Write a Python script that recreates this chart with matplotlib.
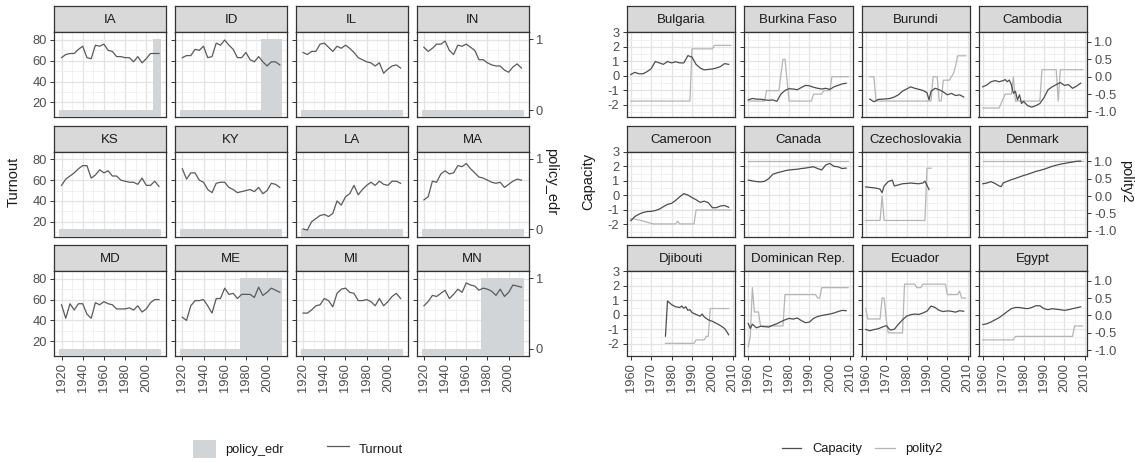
import matplotlib
matplotlib.use('Agg')
import matplotlib.pyplot as plt
from matplotlib.lines import Line2D
from matplotlib.patches import Patch

plt.rcParams['font.family'] = ['Liberation Sans', 'DejaVu Sans']
plt.rcParams['axes.unicode_minus'] = False

# ------------------------------------------------------------------ data (left)
states = ['IA', 'ID', 'IL', 'IN', 'KS', 'KY', 'LA', 'MA', 'MD', 'ME', 'MI', 'MN']
election_years = list(range(1920, 2013, 4))
turnout = {
    'IA': [63, 66, 67, 67, 71, 74, 63, 62, 75, 74, 76, 70, 69, 64, 64, 63, 63, 59, 64, 58, 62, 67, 67, 67],
    'ID': [63, 65, 65, 71, 70, 74, 63, 64, 77, 75, 80, 75, 71, 63, 63, 68, 61, 59, 64, 59, 55, 59, 59, 56],
    'IL': [68, 66, 69, 69, 76, 77, 73, 69, 74, 72, 75, 72, 68, 63, 61, 59, 58, 55, 58, 48, 52, 55, 56, 53],
    'IN': [73, 69, 72, 76, 76, 79, 70, 66, 75, 74, 76, 73, 70, 61, 61, 58, 56, 55, 55, 51, 49, 54, 57, 53],
    'KS': [55, 61, 64, 67, 71, 74, 74, 62, 65, 70, 67, 69, 64, 64, 60, 59, 58, 58, 56, 62, 55, 55, 59, 54],
    'KY': [71, 61, 67, 67, 60, 58, 51, 48, 57, 58, 58, 53, 51, 48, 49, 50, 51, 49, 53, 47, 50, 57, 56, 53],
    'LA': [13, 12, 20, 23, 26, 27, 25, 28, 40, 36, 44, 47, 55, 46, 51, 55, 58, 55, 59, 56, 55, 59, 59, 57],
    'MA': [41, 44, 59, 58, 66, 69, 66, 67, 74, 73, 76, 71, 67, 63, 62, 60, 58, 57, 58, 53, 56, 59, 61, 60],
    'MD': [55, 42, 56, 50, 56, 56, 46, 42, 57, 55, 58, 56, 55, 51, 51, 51, 52, 50, 54, 48, 51, 57, 60, 60],
    'ME': [43, 40, 54, 59, 59, 60, 54, 47, 61, 61, 71, 65, 66, 61, 65, 65, 65, 62, 72, 64, 67, 71, 69, 67],
    'MI': [47, 47, 50, 54, 55, 61, 59, 53, 66, 70, 71, 67, 66, 59, 59, 60, 58, 54, 61, 54, 58, 63, 66, 61],
    'MN': [54, 58, 64, 63, 66, 69, 61, 65, 70, 67, 76, 74, 73, 69, 71, 70, 68, 64, 70, 63, 67, 74, 73, 72],
}
# first election year with election-day registration (policy_edr = 1)
edr_start = {'IA': 2008, 'ID': 1996, 'ME': 1976, 'MN': 1976}

# ------------------------------------------------------------------ data (right)
countries = ['Bulgaria', 'Burkina Faso', 'Burundi', 'Cambodia', 'Cameroon', 'Canada',
             'Czechoslovakia', 'Denmark', 'Djibouti', 'Dominican Rep.', 'Ecuador', 'Egypt']
cap_years_std = list(range(1960, 2009, 2))
capacity = {
    'Bulgaria': (cap_years_std,
                 [0.1, 0.25, 0.15, 0.15, 0.3, 0.5, 1.0, 0.9, 0.8, 1.0, 0.9, 0.98, 0.9,
                  0.9, 1.4, 1.3, 0.8, 0.55, 0.42, 0.45, 0.48, 0.55, 0.65, 0.85, 0.8]),
    'Burkina Faso': (cap_years_std,
                     [-1.65, -1.55, -1.6, -1.6, -1.65, -1.68, -1.65, -1.75, -1.25, -1.0, -0.88, -0.9,
                      -0.95, -0.8, -0.65, -0.68, -0.78, -0.85, -0.9, -0.85, -0.93, -0.75, -0.65, -0.55, -0.5]),
    'Burundi': ([1962, 1964, 1966, 1968, 1970, 1972, 1974, 1976, 1978, 1980, 1982, 1984, 1986,
                 1988, 1990, 1991, 1992, 1994, 1996, 1998, 2000, 2002, 2004, 2006, 2008],
                [-1.6, -1.78, -1.62, -1.6, -1.58, -1.55, -1.45, -1.3, -1.05, -0.9, -0.75, -0.85, -0.92,
                 -1.0, -1.15, -1.65, -1.05, -0.85, -0.95, -1.1, -1.3, -1.2, -1.35, -1.3, -1.45]),
    'Cambodia': ([1960, 1962, 1964, 1966, 1968, 1970, 1971, 1972, 1973, 1974, 1975, 1976, 1977, 1978,
                  1979, 1980, 1982, 1984, 1986, 1988, 1990, 1992, 1994, 1996, 1998, 2000, 2002, 2004,
                  2006, 2008],
                 [-0.75, -0.62, -0.4, -0.32, -0.4, -0.32, -0.25, -0.4, -0.28, -0.6, -1.2, -1.05, -1.65,
                  -1.3, -1.9, -1.75, -2.05, -2.15, -2.05, -1.9, -1.5, -0.95, -0.75, -0.6, -0.45, -0.65,
                  -0.6, -0.85, -0.7, -0.5]),
    'Cameroon': (cap_years_std,
                 [-1.75, -1.46, -1.3, -1.18, -1.12, -1.1, -1.05, -0.95, -0.78, -0.62, -0.55, -0.35, -0.1,
                  0.12, 0.02, -0.15, -0.3, -0.48, -0.4, -0.5, -0.85, -0.85, -0.73, -0.7, -0.82]),
    'Canada': (cap_years_std,
               [1.05, 1.0, 0.95, 0.93, 0.97, 1.15, 1.45, 1.55, 1.62, 1.7, 1.75, 1.78, 1.8,
                1.85, 1.88, 1.93, 1.97, 1.85, 1.75, 2.1, 2.2, 2.0, 1.97, 1.85, 1.88]),
    'Czechoslovakia': ([1960, 1962, 1964, 1966, 1967, 1968, 1969, 1971, 1973, 1974, 1976, 1978, 1980,
                        1982, 1984, 1986, 1988, 1989, 1990, 1991],
                       [0.58, 0.55, 0.52, 0.47, 0.42, 0.18, 0.65, 0.95, 1.05, 0.65, 0.72, 0.8, 0.82,
                        0.85, 0.82, 0.8, 0.85, 0.98, 0.7, 0.4]),
    'Denmark': ([1960, 1962, 1964, 1966, 1968, 1969, 1970, 1972, 1974, 1976, 1978, 1980, 1982, 1984,
                 1986, 1988, 1990, 1992, 1994, 1996, 1998, 2000, 2002, 2004, 2006, 2008],
                [0.8, 0.85, 0.95, 0.82, 0.65, 0.6, 0.85, 0.97, 1.08, 1.17, 1.27, 1.37, 1.45, 1.55,
                 1.65, 1.72, 1.8, 1.9, 2.0, 2.08, 2.15, 2.2, 2.25, 2.3, 2.35, 2.36]),
    'Djibouti': ([1977, 1978, 1980, 1982, 1984, 1985, 1986, 1987, 1988, 1989, 1990, 1992, 1994, 1995,
                  1996, 1998, 2000, 2002, 2004, 2006, 2007, 2008],
                 [-1.48, 0.95, 0.7, 0.55, 0.5, 0.6, 0.45, 0.55, 0.3, 0.35, 0.15, 0.02, -0.1, 0.05,
                  -0.15, -0.35, -0.45, -0.6, -0.75, -0.95, -1.15, -1.38]),
    'Dominican Rep.': ([1960, 1961, 1962, 1964, 1966, 1968, 1970, 1972, 1974, 1976, 1978, 1980, 1982,
                        1984, 1986, 1988, 1990, 1992, 1994, 1996, 1998, 2000, 2002, 2004, 2006, 2008],
                       [-0.6, -0.95, -0.65, -0.9, -0.8, -0.82, -0.85, -0.72, -0.62, -0.48, -0.35, -0.25,
                        -0.3, -0.22, -0.4, -0.55, -0.5, -0.25, -0.12, -0.05, 0.0, 0.05, 0.12, 0.22, 0.3,
                        0.28]),
    'Ecuador': (cap_years_std,
                [-1.02, -1.1, -1.02, -0.97, -0.85, -0.75, -1.05, -1.0, -0.65, -0.35, -0.1, 0.0, 0.05,
                 0.02, 0.12, 0.25, 0.6, 0.5, 0.3, 0.22, 0.27, 0.24, 0.18, 0.28, 0.24]),
    'Egypt': (cap_years_std,
              [-0.68, -0.62, -0.5, -0.35, -0.2, 0.0, 0.22, 0.42, 0.5, 0.5, 0.45, 0.42, 0.5,
               0.62, 0.62, 0.42, 0.35, 0.42, 0.38, 0.35, 0.3, 0.35, 0.42, 0.48, 0.55]),
}
# polity2 (rescaled to -1..1): vertices of the yearly series
polity2 = {
    'Bulgaria': ([1960, 1989, 1990, 2000, 2001, 2009], [-0.7, -0.7, 0.8, 0.8, 0.9, 0.9]),
    'Burkina Faso': ([1960, 1968, 1969, 1975, 1977, 1978, 1980, 1991, 1992, 1996, 1997, 2000, 2001, 2009],
                     [-0.7, -0.7, -0.4, -0.4, 0.5, 0.5, -0.7, -0.7, -0.5, -0.5, -0.4, -0.4, 0.0, 0.0]),
    'Burundi': ([1962, 1964, 1965, 1992, 1993, 1995, 1996, 1997, 1998, 2001, 2003, 2004, 2005, 2009],
                [0.0, 0.0, -0.7, -0.7, 0.0, 0.0, -0.7, -0.7, -0.1, -0.1, 0.1, 0.3, 0.6, 0.6]),
    'Cambodia': ([1960, 1968, 1971, 1974, 1975, 1976, 1988, 1989, 1996, 1997, 1998, 2009],
                 [-0.9, -0.9, -0.5, -0.5, 0.0, -0.7, -0.7, 0.2, 0.2, -0.7, 0.2, 0.2]),
    'Cameroon': ([1960, 1961, 1965, 1971, 1982, 1983, 1984, 1991, 1992, 2009],
                 [-0.65, -0.65, -0.7, -0.8, -0.8, -0.72, -0.8, -0.8, -0.4, -0.4]),
    'Canada': ([1960, 2009], [1.0, 1.0]),
    'Czechoslovakia': ([1960, 1967, 1968, 1969, 1989, 1990, 1992], [-0.7, -0.7, 0.0, -0.7, -0.7, 0.8, 0.8]),
    'Denmark': ([1960, 2009], [1.0, 1.0]),
    'Djibouti': ([1977, 1991, 1992, 1996, 1997, 1998, 1999, 2008],
                 [-0.8, -0.8, -0.7, -0.7, -0.6, -0.6, 0.2, 0.2]),
    'Dominican Rep.': ([1960, 1961, 1962, 1963, 1965, 1966, 1977, 1978, 1993, 1994, 1995, 1996, 2009],
                       [-0.9, -0.6, 0.8, 0.1, 0.1, -0.3, -0.3, 0.6, 0.6, 0.5, 0.5, 0.8, 0.8]),
    'Ecuador': ([1960, 1961, 1967, 1968, 1969, 1970, 1971, 1978, 1979, 1984, 1985, 1987, 1988, 1999,
                 2000, 2005, 2006, 2007, 2009],
                [0.2, -0.1, -0.1, 0.5, 0.5, -0.1, -0.5, -0.5, 0.9, 0.9, 0.8, 0.8, 0.9, 0.9,
                 0.6, 0.6, 0.7, 0.5, 0.5]),
    'Egypt': ([1960, 1975, 1976, 2004, 2005, 2009], [-0.7, -0.7, -0.6, -0.6, -0.3, -0.3]),
}

# ------------------------------------------------------------------ styling
W, H = 1135, 462
fig = plt.figure(figsize=(W / 100, H / 100), dpi=100)

BORDER = '#333333'
STRIP = '#D9D9D9'
GRID_MAJ = '#E3E3E3'
GRID_MIN = '#EFEFEF'
TXT = '#4D4D4D'
EDR_COL = '#D1D5D8'
TURN_COL = '#5A5A5A'
CAP_COL = '#4D4D4D'
POL_COL = '#B5B5B5'
TICK_FS = 9.3
STRIP_FS = 9.5
TITLE_FS = 10.5
LEG_FS = 9.3
TICK_LEN = 3.2
TICK_PAD = 2.0

row_tops = [6.3, 125.7, 245.1]
strip_h = 26
plot_h = 85
left_lefts = [54.2, 175.0, 295.8, 416.6]
left_w = 112
right_lefts = [626.5, 744.0, 861.5, 978.5]
right_w = 108.5


def rect(l, t, w, h):
    return [l / W, 1 - (t + h) / H, w / W, h / H]


def make_panel(l, t, w, title):
    s = fig.add_axes(rect(l, t, w, strip_h))
    s.set_facecolor(STRIP)
    s.set_xticks([]); s.set_yticks([])
    for sp in s.spines.values():
        sp.set_color(BORDER); sp.set_linewidth(0.9)
    s.text(0.5, 0.46, title, ha='center', va='center', fontsize=STRIP_FS, color='#1A1A1A',
           transform=s.transAxes)
    ax = fig.add_axes(rect(l, t + strip_h, w, plot_h))
    ax.set_facecolor('white')
    for sp in ax.spines.values():
        sp.set_color(BORDER); sp.set_linewidth(0.9)
    ax.tick_params(which='major', length=TICK_LEN, width=0.7, color=BORDER, labelsize=TICK_FS,
                   labelcolor=TXT, pad=TICK_PAD)
    ax.tick_params(which='minor', length=0)
    ax.grid(which='major', color=GRID_MAJ, lw=0.9, zorder=0)
    ax.grid(which='minor', color=GRID_MIN, lw=0.6, zorder=0)
    ax.set_axisbelow(True)
    return ax


def style_twin_ticks(tw):
    tw.tick_params(axis='y', length=TICK_LEN, width=0.7, color=BORDER, labelsize=TICK_FS,
                   labelcolor=TXT, pad=TICK_PAD)


# ------------------------------------------------------------------ left facets
L_XLIM = (1913.1, 2018.8)
L_YLIM = (5.6, 87.4)
EDR0, EDR1 = 12.6, 80.7          # turnout-scale position of policy_edr 0 and 1
tw_lim = ((L_YLIM[0] - EDR0) / (EDR1 - EDR0), (L_YLIM[1] - EDR0) / (EDR1 - EDR0))

for i, st in enumerate(states):
    r, c = divmod(i, 4)
    ax = make_panel(left_lefts[c], row_tops[r], left_w, st)
    ax.set_xlim(*L_XLIM); ax.set_ylim(*L_YLIM)
    ax.set_xticks([1920, 1940, 1960, 1980, 2000])
    ax.set_xticks([1930, 1950, 1970, 1990, 2010], minor=True)
    ax.set_yticks([20, 40, 60, 80])
    ax.set_yticks([10, 30, 50, 70], minor=True)
    if c != 0:
        ax.tick_params(axis='y', labelleft=False, left=False)
    if r != 2:
        ax.tick_params(axis='x', labelbottom=False, bottom=False)
    else:
        ax.tick_params(axis='x', labelrotation=90)
    tw = ax.twinx()
    for sp in tw.spines.values():
        sp.set_visible(False)
    start = edr_start.get(st, 9999)
    edr = [1 if y >= start else 0 for y in election_years]
    tw.bar(election_years, [v - tw_lim[0] for v in edr], bottom=tw_lim[0], width=4,
           color=EDR_COL, linewidth=0, zorder=1)
    tw.plot(election_years, turnout[st], color=TURN_COL, lw=0.9, transform=ax.transData, zorder=2)
    tw.set_xlim(*L_XLIM)
    tw.set_ylim(*tw_lim)
    if c == 3:
        tw.set_yticks([0, 1])
        style_twin_ticks(tw)
    else:
        tw.set_yticks([])

fig.text(14 / W, 1 - 181.7 / H, 'Turnout', rotation=90, ha='center', va='center',
         fontsize=TITLE_FS, color='#1A1A1A')
fig.text(551 / W, 1 - 181.7 / H, 'policy_edr', rotation=270, ha='center', va='center',
         fontsize=TITLE_FS, color='#1A1A1A')

# ------------------------------------------------------------------ right facets
R_XLIM = (1957.9, 2011.1)
R_YLIM = (-2.85, 3.01)
P_A, P_B = 2.4, -0.05            # capacity = P_A * polity2 + P_B
pw_lim = ((R_YLIM[0] - P_B) / P_A, (R_YLIM[1] - P_B) / P_A)

for i, ct in enumerate(countries):
    r, c = divmod(i, 4)
    ax = make_panel(right_lefts[c], row_tops[r], right_w, ct)
    ax.set_xlim(*R_XLIM); ax.set_ylim(*R_YLIM)
    ax.set_xticks([1960, 1970, 1980, 1990, 2000, 2010])
    ax.set_xticks([1965, 1975, 1985, 1995, 2005], minor=True)
    ax.set_yticks([-2, -1, 0, 1, 2, 3])
    ax.set_yticks([-2.5, -1.5, -0.5, 0.5, 1.5, 2.5], minor=True)
    if c != 0:
        ax.tick_params(axis='y', labelleft=False, left=False)
    if r != 2:
        ax.tick_params(axis='x', labelbottom=False, bottom=False)
    else:
        ax.tick_params(axis='x', labelrotation=90)
    tw = ax.twinx()
    for sp in tw.spines.values():
        sp.set_visible(False)
    py, pv = polity2[ct]
    tw.plot(py, pv, color=POL_COL, lw=0.9, zorder=1)
    cy, cv = capacity[ct]
    tw.plot(cy, cv, color=CAP_COL, lw=0.9, transform=ax.transData, zorder=2)
    tw.set_xlim(*R_XLIM)
    tw.set_ylim(*pw_lim)
    if c == 3:
        tw.set_yticks([-1.0, -0.5, 0.0, 0.5, 1.0])
        tw.set_yticklabels(['-1.0', '-0.5', '0.0', '0.5', '1.0'])
        style_twin_ticks(tw)
    else:
        tw.set_yticks([])

fig.text(588 / W, 1 - 181.7 / H, 'Capacity', rotation=90, ha='center', va='center',
         fontsize=TITLE_FS, color='#1A1A1A')
fig.text(1126 / W, 1 - 181.7 / H, 'polity2', rotation=270, ha='center', va='center',
         fontsize=TITLE_FS, color='#1A1A1A')

# ------------------------------------------------------------------ legends
leg1 = fig.legend(handles=[Patch(facecolor=EDR_COL, edgecolor='none'),
                           Line2D([], [], color=TURN_COL, lw=0.9)],
                  labels=['policy_edr', 'Turnout'], loc='center',
                  bbox_to_anchor=(298 / W, 1 - 449 / H), ncol=2, frameon=False,
                  fontsize=LEG_FS, handlelength=1.75, handleheight=1.85, columnspacing=3.3,
                  handletextpad=0.75)
for t in leg1.get_texts():
    t.set_color('#1A1A1A')
leg2 = fig.legend(handles=[Line2D([], [], color=CAP_COL, lw=0.9),
                           Line2D([], [], color=POL_COL, lw=0.9)],
                  labels=['Capacity', 'polity2'], loc='center',
                  bbox_to_anchor=(862.5 / W, 1 - 449 / H), ncol=2, frameon=False,
                  fontsize=LEG_FS, handlelength=1.5, columnspacing=1.0, handletextpad=0.85)
for t in leg2.get_texts():
    t.set_color('#1A1A1A')

fig.savefig('out.png', dpi=100)
